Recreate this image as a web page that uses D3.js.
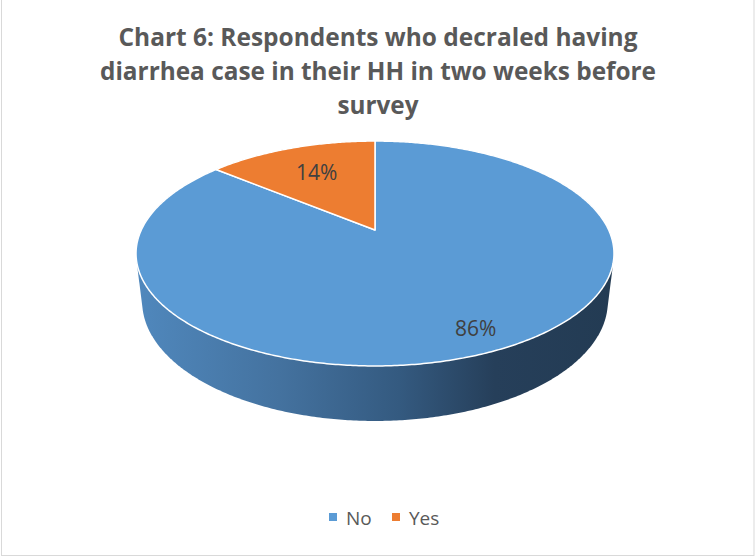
<!DOCTYPE html>
<html>
<head>
<meta charset="utf-8">
<script src="https://d3js.org/d3.v7.min.js"></script>
<style>
  body { margin: 0; background: #fff; }
  svg { display: block; }
</style>
</head>
<body>
<div id="chart"></div>
<script>
// data
const categories = ["No", "Yes"];
const values = [86, 14];
const colors = ["#5B9BD5", "#ED7D31"];
const titleLines = [
  "Chart 6: Respondents who decraled having",
  "diarrhea case in their HH in two weeks before",
  "survey"
];

const W = 755, H = 557;
const svg = d3.select("#chart").append("svg")
  .attr("width", W).attr("height", H);

// chart border (top edge falls outside the view)
svg.append("rect")
  .attr("x", 1.5).attr("y", -5)
  .attr("width", W - 2.5).attr("height", 560.5)
  .attr("fill", "#fff").attr("stroke", "#d9d9d9").attr("stroke-width", 1);

// title
const titleWidths = [519, 556, 81];
const title = svg.append("g")
  .attr("font-family", "'Open Sans', sans-serif")
  .attr("font-weight", "bold").attr("font-size", 25)
  .attr("fill", "#595959").attr("text-anchor", "middle");
titleLines.forEach((t, i) => {
  title.append("text")
    .attr("x", 378).attr("y", 46 + i * 34)
    .attr("textLength", titleWidths[i])
    .attr("lengthAdjust", "spacingAndGlyphs")
    .text(t);
});

// 3D pie projection (tilted disc seen in perspective)
const cx = 375, cy = 230;
const R = 0.2353, focal = 993.2, thick = 0.0548;
const tilt = 27.4 * Math.PI / 180;
const sinT = Math.sin(tilt), cosT = Math.cos(tilt);
const rScale = d3.scaleLinear().domain([0, 1]).range([0, R]);

function project(a, r, yObj) {
  const x = rScale(r) * Math.sin(a);
  const z = rScale(r) * Math.cos(a);
  const yu = z * sinT + yObj * cosT;
  const dep = 1 + z * cosT - yObj * sinT;
  return [cx + focal * x / dep, cy - focal * yu / dep];
}

const pie = d3.pie().sort(null).value(d => d)(values);
const line = d3.line().curve(d3.curveLinearClosed);

function arcPoints(a0, a1, yObj) {
  const n = Math.max(4, Math.ceil(Math.abs(a1 - a0) / 0.01));
  return d3.range(n + 1).map(i => project(a0 + (a1 - a0) * i / n, 1, yObj));
}

// side wall: hull of top and bottom rims
const rimTop = arcPoints(0, 2 * Math.PI, 0);
const rimBot = arcPoints(0, 2 * Math.PI, -thick);
const hull = d3.polygonHull(rimTop.concat(rimBot));

const defs = svg.append("defs");
const grad = defs.append("linearGradient").attr("id", "side")
  .attr("gradientUnits", "userSpaceOnUse")
  .attr("x1", 136).attr("x2", 614).attr("y1", 0).attr("y2", 0);
[[0, "#5088bd"], [0.3, "#44729f"], [0.55, "#345a80"], [0.75, "#263f5a"], [1, "#233b53"]]
  .forEach(s => grad.append("stop").attr("offset", s[0]).attr("stop-color", s[1]));

svg.append("path")
  .attr("d", line(hull))
  .attr("fill", "url(#side)");

// top face slices
svg.append("g").selectAll("path")
  .data(pie)
  .join("path")
    .attr("d", d => line([project(0, 0, 0)].concat(arcPoints(d.startAngle, d.endAngle, 0))))
    .attr("fill", (d, i) => colors[i])
    .attr("stroke", "#fff")
    .attr("stroke-width", 1.5)
    .attr("stroke-linejoin", "round");

// data labels
const labelR = [0.85, 0.66];
svg.append("g")
  .attr("font-family", "'Open Sans', sans-serif")
  .attr("font-size", 21).attr("fill", "#404040")
  .attr("text-anchor", "middle")
  .selectAll("text")
  .data(pie)
  .join("text")
    .attr("x", (d, i) => project((d.startAngle + d.endAngle) / 2, labelR[i], 0)[0])
    .attr("y", (d, i) => project((d.startAngle + d.endAngle) / 2, labelR[i], 0)[1])
    .attr("dy", "0.35em")
    .text(d => Math.round(d.value / d3.sum(values) * 100) + "%");

// legend
const legendX = [329, 392];
const legend = svg.append("g")
  .attr("font-family", "'Open Sans', sans-serif")
  .attr("font-size", 19).attr("fill", "#595959");
categories.forEach((c, i) => {
  legend.append("rect")
    .attr("x", legendX[i]).attr("y", 513)
    .attr("width", 8).attr("height", 8)
    .attr("fill", colors[i]);
  legend.append("text")
    .attr("x", legendX[i] + 17).attr("y", 525)
    .text(c);
});
</script>
</body>
</html>
